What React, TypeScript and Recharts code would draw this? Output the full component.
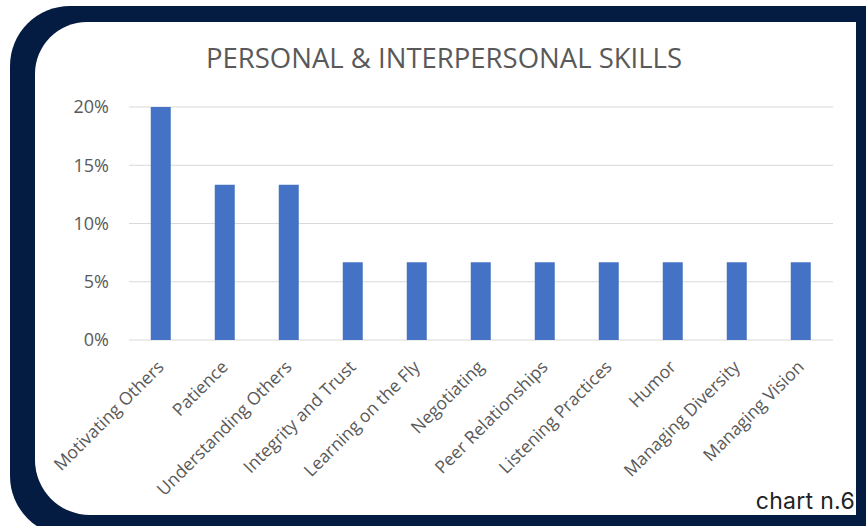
import React from 'react';
import { BarChart, Bar, XAxis, YAxis, CartesianGrid } from 'recharts';

const skills = [
  'Motivating Others',
  'Patience',
  'Understanding Others',
  'Integrity and Trust',
  'Learning on the Fly',
  'Negotiating',
  'Peer Relationships',
  'Listening Practices',
  'Humor',
  'Managing Diversity',
  'Managing Vision',
];
const shares = [0.2, 0.1333, 0.1333, 0.0667, 0.0667, 0.0667, 0.0667, 0.0667, 0.0667, 0.0667, 0.0667];
const yTicks = [0, 0.05, 0.1, 0.15, 0.2];

const data = skills.map((name, i) => ({ name, value: shares[i] }));

const NAVY = '#041c42';
const GREY = '#595959';
const FONT = '"Open Sans", "Liberation Sans", sans-serif';

const SkillTick = (props: any) => {
  const { x, y, payload } = props;
  const tx = x + 4;
  const ty = y + 20;
  return (
    <text
      x={tx}
      y={ty}
      transform={`rotate(-45, ${tx}, ${ty})`}
      textAnchor="end"
      fill={GREY}
      fontSize={17.5}
      fontFamily={FONT}
    >
      {payload.value}
    </text>
  );
};

export default function App() {
  return (
    <div style={{ position: 'absolute', left: 0, top: 0, width: 866, height: 526, overflow: 'hidden', background: '#fff' }}>
      {/* navy frame */}
      <div
        style={{
          position: 'absolute',
          left: 10,
          top: 6,
          width: 900,
          height: 530,
          background: NAVY,
          borderRadius: '60px 0 0 60px',
        }}
      />
      {/* white panel */}
      <div
        style={{
          position: 'absolute',
          left: 35,
          top: 22,
          width: 821,
          height: 493,
          background: '#fff',
          borderRadius: '52px 0 0 55px',
        }}
      />
      <div
        style={{
          position: 'absolute',
          left: 0,
          top: 38,
          width: 888,
          textAlign: 'center',
          fontFamily: FONT,
          fontSize: 27.5,
          lineHeight: '40px',
          color: GREY,
        }}
      >
        PERSONAL &amp; INTERPERSONAL SKILLS
      </div>
      <div style={{ position: 'absolute', left: 0, top: 0 }}>
        <BarChart
          width={866}
          height={526}
          data={data}
          margin={{ top: 107, right: 33, bottom: 0, left: 0 }}
          barCategoryGap="34%"
        >
          <CartesianGrid vertical={false} stroke="#d9d9d9" strokeWidth={1} />
          <YAxis
            width={129}
            domain={[0, 0.2]}
            ticks={yTicks}
            tickFormatter={(v: number) => `${Math.round(v * 100)}%`}
            axisLine={false}
            tickLine={false}
            tickMargin={14}
            tick={{ fill: GREY, fontSize: 18, fontFamily: FONT }}
          />
          <XAxis
            dataKey="name"
            height={186}
            interval={0}
            axisLine={false}
            tickLine={false}
            tick={<SkillTick />}
          />
          <Bar dataKey="value" fill="#4472c4" isAnimationActive={false} />
        </BarChart>
      </div>
      <div
        style={{
          position: 'absolute',
          right: 11,
          top: 487,
          fontFamily: 'Inter, sans-serif',
          fontSize: 23,
          letterSpacing: 0.3,
          lineHeight: '28px',
          color: '#222',
        }}
      >
        chart n.6
      </div>
    </div>
  );
}
